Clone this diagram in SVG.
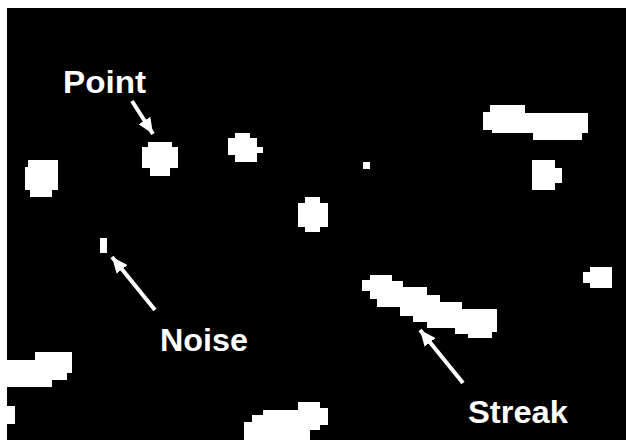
<svg xmlns="http://www.w3.org/2000/svg" width="626" height="440" viewBox="0 0 626 440">
  <style>
    .blob { fill: #ffffff; }
    .lbl { fill: #ffffff; font-family: "Liberation Sans", Arial, sans-serif; font-weight: bold; font-size: 32px; }
    .conn { stroke: #ffffff; stroke-width: 4; fill: none; marker-end: url(#head); }
  </style>
  <defs>
    <marker id="head" markerUnits="userSpaceOnUse" viewBox="0 0 16 14" refX="16" refY="7" markerWidth="16" markerHeight="14" orient="auto">
      <path d="M0,0 L16,7 L0,14 Z" fill="#ffffff"/>
    </marker>
  </defs>
  <rect x="0" y="0" width="626" height="440" fill="#ffffff"/>
  <rect x="7" y="8" width="619" height="432" fill="#000000"/>

  <g id="blobs">
    <path class="blob" d="M148,142 H172 V147 H178 V168 H170 V176 H150 V168 H142 V147 H148 Z"/>
    <path class="blob" d="M28,160 H58 V190 H52 V197 H30 V190 H25 V167 H28 Z"/>
    <path class="blob" d="M235,133 H250 V138 H257 V147 H263 V153 H257 V162 H235 V155 H228 V138 H235 Z"/>
    <path class="blob" d="M305,197 H320 V203 H328 V227 H320 V232 H305 V227 H298 V203 H305 Z"/>
    <rect class="blob" x="363" y="162" width="7" height="7"/>
    <path class="blob" d="M490,105 H525 V113 H588 V133 H582 V140 H533 V133 H492 V130 H483 V112 H490 Z"/>
    <path class="blob" d="M532,160 H555 V168 H562 V183 H555 V190 H532 Z"/>
    <path class="blob" d="M590,267 H612 V288 H590 V283 H583 V272 H590 Z"/>
    <path class="blob" d="M370,275 H392 V281 H403 V287 H427 V295 H440 V302 H462 V309 H497 V332 H492 V338 H468 V334 H455 V328 H427 V322 H413 V316 H400 V307 H377 V299 H370 V291 H362 V280 H370 Z"/>
    <rect class="blob" x="100" y="238" width="7" height="15"/>
    <path class="blob" d="M35,352 H72 V373 H67 V380 H52 V387 H7 V360 H35 Z"/>
    <rect class="blob" x="7" y="406" width="8" height="18"/>
    <path class="blob" d="M298,402 H320 V408 H328 V425 H320 V430 H310 V440 H244 V422 H252 V415 H263 V410 H298 Z"/>
  </g>

  <g id="connectors">
    <line class="conn" x1="132" y1="101" x2="153" y2="134"/>
    <line class="conn" x1="155" y1="310" x2="112" y2="257"/>
    <line class="conn" x1="463" y1="383" x2="420" y2="330"/>
  </g>

  <g id="label-point">
    <text class="lbl" x="63" y="93" textLength="83" lengthAdjust="spacingAndGlyphs">Point</text>
  </g>
  <g id="label-noise">
    <text class="lbl" x="160" y="351" textLength="88" lengthAdjust="spacingAndGlyphs">Noise</text>
  </g>
  <g id="label-streak">
    <text class="lbl" x="468" y="423" textLength="100" lengthAdjust="spacingAndGlyphs">Streak</text>
  </g>
</svg>
